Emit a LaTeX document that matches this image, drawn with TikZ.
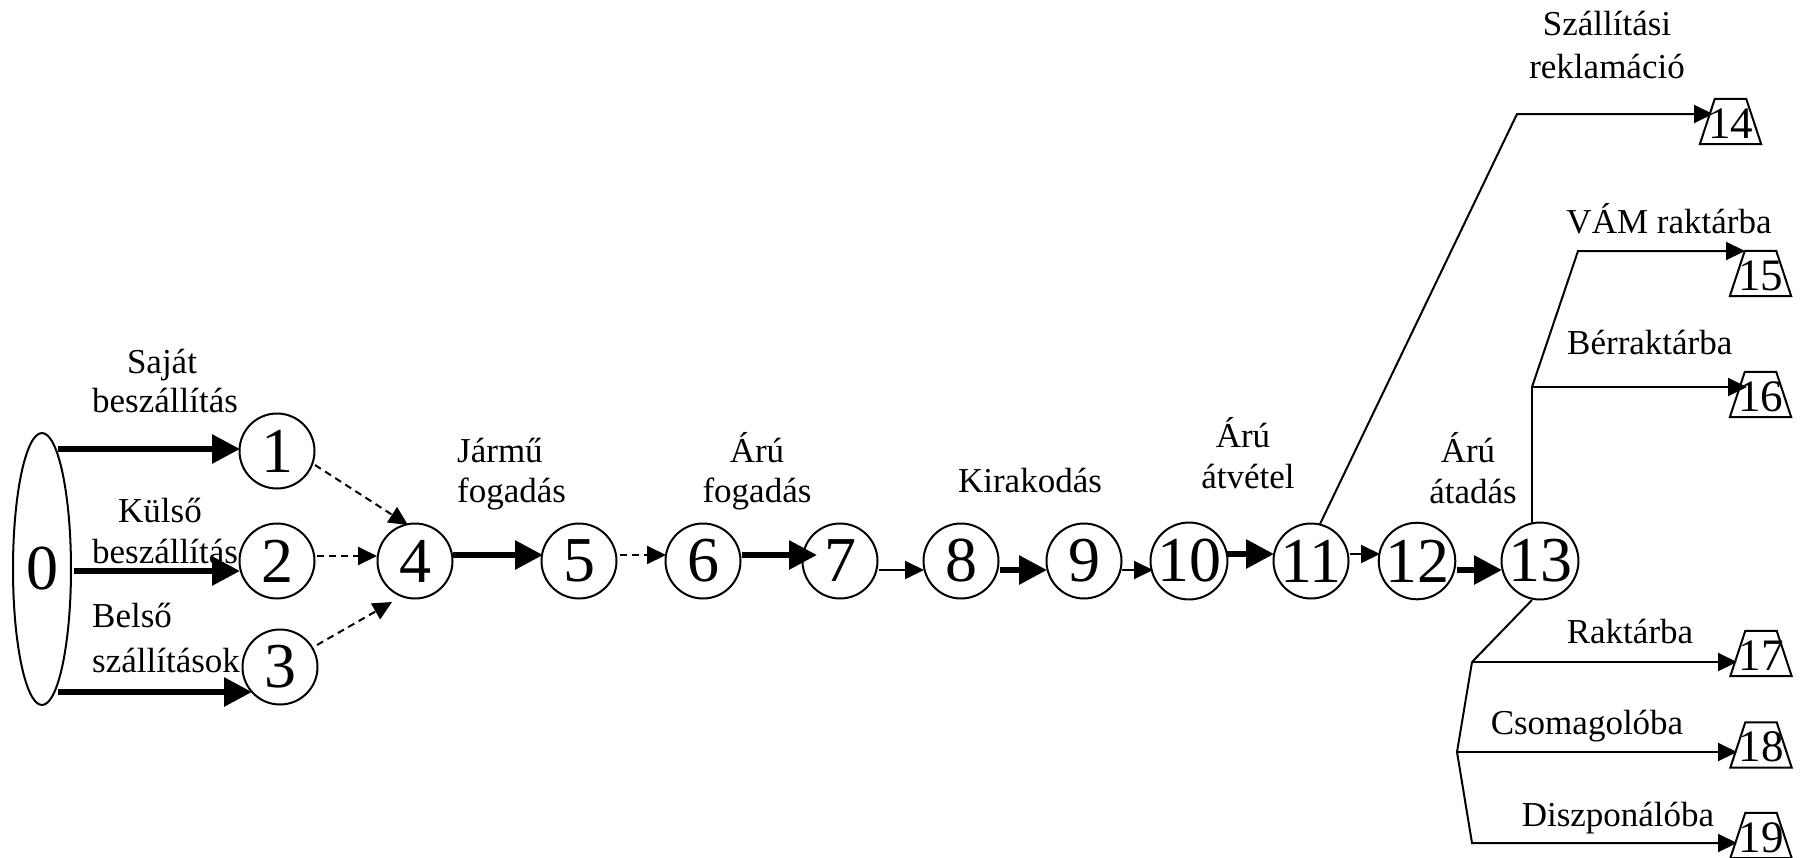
\documentclass[tikz,border=0pt]{standalone}
\usepackage{fontspec}
\setmainfont{Liberation Serif}
\usetikzlibrary{arrows.meta,shapes.geometric}

% outline of a sink node: a trapezoid narrower at the top
\newcommand\sinkframe[1]{%
  \draw[line width=2pt,line join=miter]
    (#1.south west) -- (#1.south east) -- ([xshift=-15pt]#1.north east)
    -- ([xshift=15pt]#1.north west) -- cycle;}

\begin{document}
\begin{tikzpicture}[x=1pt,y=-1pt,
  state/.style={circle,draw,line width=2pt,minimum size=75pt,inner sep=0pt,
    font=\fontsize{64}{64}\selectfont},
  source/.style={ellipse,draw,line width=2pt,minimum width=58pt,
    minimum height=272pt,inner sep=0pt,font=\fontsize{64}{64}\selectfont},
  sink/.style={rectangle,minimum width=61pt,minimum height=45pt,inner sep=0pt,
    text height=33pt,text depth=0pt,font=\fontsize{45}{45}\selectfont},
  lbl/.style={inner sep=0pt,font=\fontsize{35}{35}\selectfont,anchor=base},
  lbll/.style={lbl,anchor=base west},
  heavy/.style={line width=6pt,-{Triangle[length=28pt,width=28pt]}},
  light/.style={line width=2pt,-{Triangle[length=19pt,width=18pt]}},
  weak/.style={light,dash pattern=on 7pt off 5pt},
  branch/.style={line width=2pt},
]
\useasboundingbox (0,0) rectangle (1804,857);

% states
\node[source] (n0) at (42,569) {0};
\node[state] (n1) at (277,451) {1};
\node[state] (n2) at (277,561) {2};
\node[state] (n3) at (280,667) {3};
\node[state] (n4) at (415,561) {4};
\node[state] (n5) at (579,561) {5};
\node[state] (n6) at (703,561) {6};
\node[state] (n7) at (840,561) {7};
\node[state] (n8) at (961,561) {8};
\node[state] (n9) at (1084,561) {9};
\node[state] (n10) at (1189,561) {10};
\node[state] (n11) at (1311,561) {11};
\node[state] (n12) at (1417,561) {12};
\node[state] (n13) at (1540,561) {13};

% end states
\node[sink] (t14) at (1730.5,121.5) {14};
\node[sink] (t15) at (1760.5,273.5) {15};
\node[sink] (t16) at (1760.5,394.5) {16};
\node[sink] (t17) at (1761,653.5) {17};
\node[sink] (t18) at (1761,745) {18};
\node[sink] (t19) at (1761,835.5) {19};
\sinkframe{t14}\sinkframe{t15}\sinkframe{t16}
\sinkframe{t17}\sinkframe{t18}\sinkframe{t19}

% inputs
\draw[heavy] ([shift={(16,-120)}]n0.center) -- ([shift={(-37,-2)}]n1.center);
\draw[heavy] ([shift={(2,2)}]n0.east) -- ([shift={(-37,10)}]n2.center);
\draw[heavy] ([shift={(16,123)}]n0.center) -- ([shift={(-28,25)}]n3.center);
\draw[weak] ([shift={(38,14)}]n1.center) -- ([shift={(-7,-36)}]n4.center);
\draw[weak] ([shift={(40,-5)}]n2.center) -- ([shift={(-38,-5)}]n4.center);
\draw[weak] ([shift={(37,-22)}]n3.center) -- ([shift={(-23,41)}]n4.center);

% main chain
\draw[heavy] ([shift={(38,-6)}]n4.center) -- ([shift={(-36,-6)}]n5.center);
\draw[weak] ([shift={(41,-6)}]n5.center) -- ([shift={(-37,-6)}]n6.center);
\draw[heavy] ([shift={(39,-6)}]n6.center) -- ([shift={(-23,-6)}]n7.center);
\draw[light] ([shift={(39,9)}]n7.center) -- ([shift={(-37,9)}]n8.center);
\draw[heavy] ([shift={(39,9)}]n8.center) -- ([shift={(-37,9)}]n9.center);
\draw[light] ([shift={(38,9)}]n9.center) -- ([shift={(-36,9)}]n10.center);
\draw[heavy] ([shift={(38,-7)}]n10.center) -- ([shift={(-37,-7)}]n11.center);
\draw[light] ([shift={(39,-7)}]n11.center) -- ([shift={(-37,-7)}]n12.center);
\draw[heavy] ([shift={(40,9)}]n12.center) -- ([shift={(-38,9)}]n13.center);

% branches
\coordinate (c14) at (1517,114);
\draw[light] ([shift={(9,-37)}]n11.center) -- (c14) -- ([shift={(-17.5,-7.5)}]t14.center);

\coordinate (j16) at (1532,387);
\coordinate (c15) at (1578,251);
\draw[branch] ([shift={(-8,-37)}]n13.center) -- (j16);
\draw[light] (j16) -- ([shift={(-13.5,-7.5)}]t16.center);
\draw[light] (j16) -- (c15) -- ([shift={(-15.5,-22.5)}]t15.center);

\coordinate (j17) at (1472,662);
\coordinate (j18) at (1457,752);
\coordinate (c19) at (1472,843);
\draw[branch] ([shift={(-8,39)}]n13.center) -- (j17);
\draw[light] (j17) -- ([shift={(-24,8.5)}]t17.center);
\draw[branch] (j17) -- (j18);
\draw[light] (j18) -- ([shift={(-24,7)}]t18.center);
\draw[light] (j18) -- (c19) -- ([shift={(-24,7.5)}]t19.center);

% labels
\node[lbl] (l1a) at (162,373) {Saját};
\node[lbl] (l1b) at (165,412) {beszállítás};
\node[lbl] (l2a) at (160,522) {Külső};
\node[lbl] (l2b) at (165,563) {beszállítás};
\node[lbll] (l3a) at (92,627) {Belső};
\node[lbll] (l3b) at (92,672) {szállítások};
\node[lbll] (l4a) at (457,462) {Jármű};
\node[lbll] (l4b) at (457,502) {fogadás};
\node[lbl] (l6a) at (757,462) {Árú};
\node[lbl] (l6b) at (757,502) {fogadás};
\node[lbl] (l8) at (1030,492) {Kirakodás};
\node[lbl] (l10a) at (1243,447) {Árú};
\node[lbl] (l10b) at (1248,488) {átvétel};
\node[lbl] (l12a) at (1468,462) {Árú};
\node[lbl] (l12b) at (1473,503) {átadás};
\node[lbl] (l14a) at (1607,35) {Szállítási};
\node[lbl] (l14b) at (1607,78) {reklamáció};
\node[lbl] (l15) at (1669,233) {VÁM raktárba};
\node[lbll] (l16) at (1567,354) {Bérraktárba};
\node[lbl] (l17) at (1630,643) {Raktárba};
\node[lbl] (l18) at (1587,734) {Csomagolóba};
\node[lbl] (l19) at (1618,826) {Diszponálóba};
\end{tikzpicture}
\end{document}
